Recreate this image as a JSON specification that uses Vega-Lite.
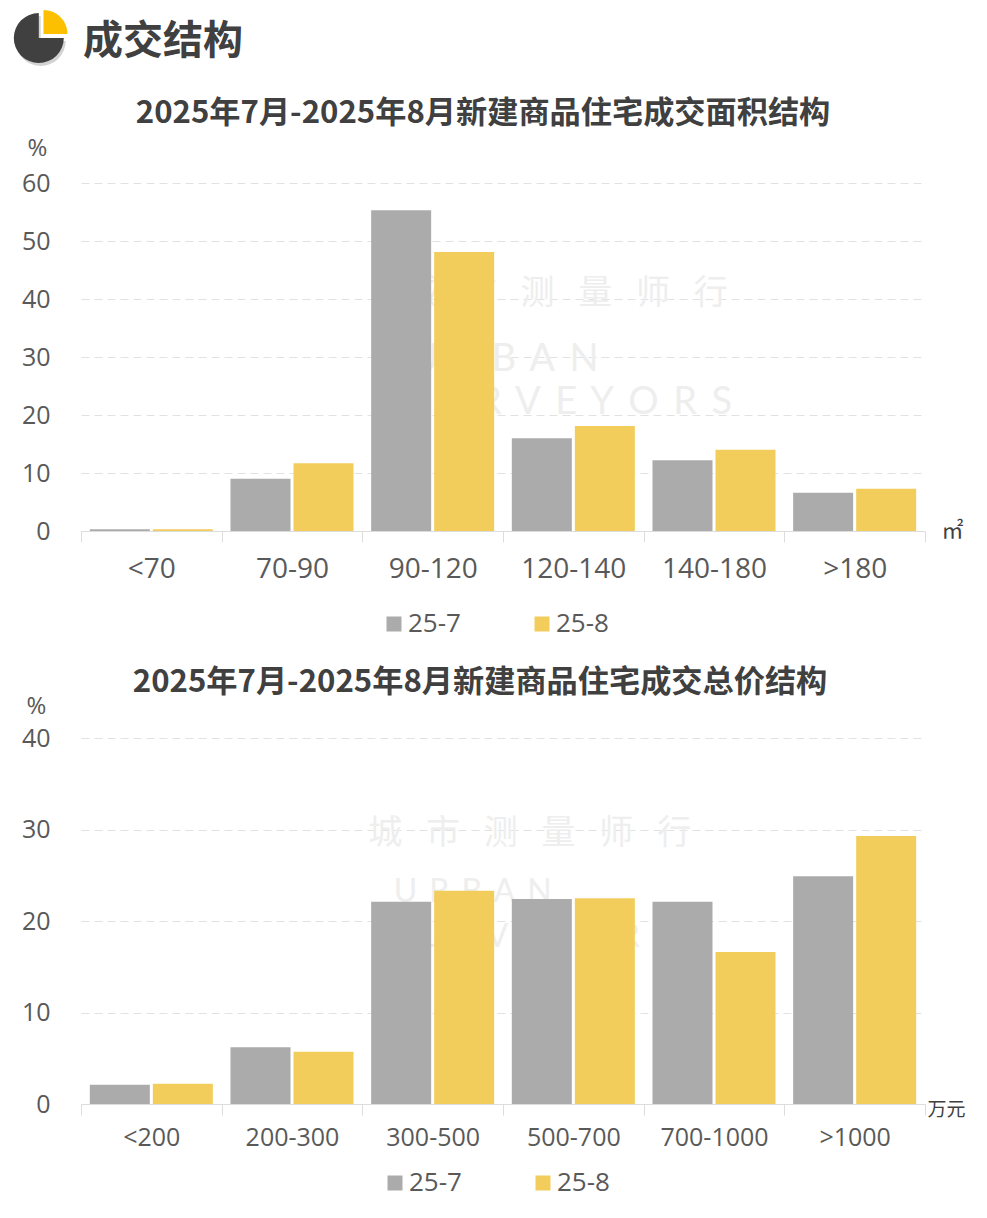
{
"$schema":"https://vega.github.io/schema/vega-lite/v6.json",
"background":"white",
"padding":{"left":13,"top":10,"right":62,"bottom":113},
"config":{"view":{"stroke":null},"font":"Noto Sans CJK SC"},
"datasets":{
"area":[
{"cat":"<70","period":"25-7","v":0.3},{"cat":"<70","period":"25-8","v":0.3},
{"cat":"70-90","period":"25-7","v":9.0},{"cat":"70-90","period":"25-8","v":11.7},
{"cat":"90-120","period":"25-7","v":55.3},{"cat":"90-120","period":"25-8","v":48.1},
{"cat":"120-140","period":"25-7","v":16.0},{"cat":"120-140","period":"25-8","v":18.1},
{"cat":"140-180","period":"25-7","v":12.2},{"cat":"140-180","period":"25-8","v":14.0},
{"cat":">180","period":"25-7","v":6.6},{"cat":">180","period":"25-8","v":7.3}],
"price":[
{"cat":"<200","period":"25-7","v":2.1},{"cat":"<200","period":"25-8","v":2.2},
{"cat":"200-300","period":"25-7","v":6.2},{"cat":"200-300","period":"25-8","v":5.7},
{"cat":"300-500","period":"25-7","v":22.1},{"cat":"300-500","period":"25-8","v":23.3},
{"cat":"500-700","period":"25-7","v":22.4},{"cat":"500-700","period":"25-8","v":22.5},
{"cat":"700-1000","period":"25-7","v":22.1},{"cat":"700-1000","period":"25-8","v":16.6},
{"cat":">1000","period":"25-7","v":24.9},{"cat":">1000","period":"25-8","v":29.3}],
"icon":[{"part":"dark","from":25,"to":100},{"part":"yellow","from":0,"to":25}],
"head":[{"label":"成交结构"}],
"wm1":[{"label":"城\u2002\u2009市\u2002\u2009测\u2002\u2009量\u2002\u2009师\u2002\u2009行","cat":"120-140"}],
"wm2":[{"label":"U\u2009 R\u2009 B\u2009 A\u2009 N","cat":"90-120"}],
"wm3":[{"label":"S\u2009 U\u2009 R\u2009 V\u2009 E\u2009 Y\u2009 O\u2009 R\u2009 S","cat":"120-140"}],
"wp1":[{"label":"城\u2002\u2009市\u2002\u2009测\u2002\u2009量\u2002\u2009师\u2002\u2009行","cat":"300-500"}],
"wp2":[{"label":"U\u2009 R\u2009 B\u2009 A\u2009 N","cat":"300-500"}],
"wp3":[{"label":"S\u2009 U\u2009 R\u2009 V\u2009 E\u2009 Y\u2009 O\u2009 R\u2009 S","cat":"300-500"}]
},
"bounds":"flush","spacing":113,
"resolve":{"scale":{"color":"independent"},"legend":{"color":"independent"}},
"vconcat":[
{"width":844,"height":60,
"layer":[
{"data":{"name":"icon"},"transform":[{"filter":"datum.part=='dark'"}],
 "mark":{"type":"arc","radius":25,"color":"#b5b5b5","opacity":0.6},
 "encoding":{"x":{"datum":-43,"type":"quantitative","scale":{"domain":[0,844]},"axis":null},"y":{"datum":31,"type":"quantitative","scale":{"domain":[0,60],"reverse":true},"axis":null},
 "theta":{"field":"from","type":"quantitative","scale":{"domain":[0,100],"range":[0,6.2832]}},"theta2":{"field":"to"}}},
{"data":{"name":"icon"},"transform":[{"filter":"datum.part=='dark'"}],
 "mark":{"type":"arc","radius":25,"color":"#404040"},
 "encoding":{"x":{"datum":-45,"type":"quantitative","axis":null},"y":{"datum":28,"type":"quantitative","axis":null},
 "theta":{"field":"from","type":"quantitative","scale":{"domain":[0,100],"range":[0,6.2832]}},"theta2":{"field":"to"}}},
{"data":{"name":"icon"},"transform":[{"filter":"datum.part=='yellow'"}],
 "mark":{"type":"arc","radius":24,"color":"#fcc000"},
 "encoding":{"x":{"datum":-40,"type":"quantitative","axis":null},"y":{"datum":24,"type":"quantitative","axis":null},
 "theta":{"field":"from","type":"quantitative","scale":{"domain":[0,100],"range":[0,6.2832]}},"theta2":{"field":"to"}}},
{"data":{"name":"head"},
 "mark":{"type":"text","align":"left","baseline":"middle","fontSize":40,"fontWeight":"bold","color":"#404040","font":"Noto Sans CJK SC"},
 "encoding":{"x":{"datum":2,"type":"quantitative","axis":null},"y":{"datum":32,"type":"quantitative","axis":null},"text":{"field":"label"}}}
]
},
{"width":844,"height":348,
"title":{"text":"2025年7月-2025年8月新建商品住宅成交面积结构","fontSize":31.2,"fontWeight":"bold","color":"#404040","font":"Noto Sans CJK SC","anchor":"middle","frame":"group","dx":-20,"offset":7},
"encoding":{"x":{"field":"cat","type":"nominal","scale":{"domain":["<70","70-90","90-120","120-140","140-180",">180"],"paddingInner":0,"paddingOuter":0},
 "axis":{"title":"㎡","titleX":871,"titleY":-1,"titleFontSize":22,"titleFontWeight":"normal","titleColor":"#404040","titleBaseline":"middle","labelAngle":0,"labelFont":"Open Sans","labelFontSize":28,"labelColor":"#595959","labelPadding":13,"tickBand":"extent","tickSize":11,"tickColor":"#dddddd","domainColor":"#dddddd","grid":false,"labelOverlap":false,"labelFlush":false}}},
"layer":[
{"data":{"name":"wm1"},"mark":{"type":"text","fontSize":34,"color":"#eeeeee","dx":-7},"encoding":{"y":{"datum":40.9,"type":"quantitative"},"text":{"field":"label"}}},
{"data":{"name":"wm2"},"mark":{"type":"text","fontSize":38,"color":"#eeeeee","dx":72,"font":"Lato"},"encoding":{"y":{"datum":29.5,"type":"quantitative"},"text":{"field":"label"}}},
{"data":{"name":"wm3"},"mark":{"type":"text","fontSize":38,"color":"#eeeeee","dx":-7,"font":"Lato"},"encoding":{"y":{"datum":22,"type":"quantitative"},"text":{"field":"label"}}},
{"data":{"name":"area"},"mark":{"type":"bar","size":60},
 "encoding":{
 "xOffset":{"field":"period","type":"nominal","scale":{"paddingInner":0.0476,"paddingOuter":0.14}},
 "y":{"field":"v","type":"quantitative","scale":{"domain":[0,60]},
  "axis":{"values":[0,10,20,30,40,50,60],"title":"%","titleAngle":0,"titleX":-44,"titleY":-35,"titleFontSize":24,"titleFont":"Open Sans","titleFontWeight":"normal","titleColor":"#595959","titleAlign":"center","titleBaseline":"middle","labelFont":"Open Sans","labelFontSize":25,"labelColor":"#595959","labelPadding":31,"ticks":false,"domain":false,"grid":true,"gridColor":"#e2e2e2","gridDash":[8,5]}},
 "color":{"field":"period","type":"nominal","scale":{"domain":["25-7","25-8"],"range":["#ababab","#f2cd5c"]},
  "legend":{"orient":"none","legendX":300,"legendY":428,"direction":"horizontal","columns":2,"title":null,"symbolType":"square","symbolSize":225,"symbolStrokeWidth":0,"symbolOpacity":1,"labelFont":"Open Sans","labelFontSize":26,"labelColor":"#595959","labelOffset":1,"columnPadding":68}}}}
]},
{"width":844,"height":460,
"title":{"text":"2025年7月-2025年8月新建商品住宅成交总价结构","fontSize":31.2,"fontWeight":"bold","color":"#404040","font":"Noto Sans CJK SC","anchor":"middle","frame":"group","dx":-23,"dy":54,"offset":0},
"encoding":{"x":{"field":"cat","type":"nominal","scale":{"domain":["<200","200-300","300-500","500-700","700-1000",">1000"],"paddingInner":0,"paddingOuter":0},
 "axis":{"title":"万元","titleX":865,"titleY":5,"titleFontSize":19,"titleFontWeight":"normal","titleColor":"#404040","titleBaseline":"middle","labelAngle":0,"labelFont":"Open Sans","labelFontSize":25,"labelColor":"#595959","labelPadding":10,"tickBand":"extent","tickSize":11,"tickColor":"#dddddd","domainColor":"#dddddd","grid":false,"labelOverlap":false,"labelFlush":false}}},
"layer":[
{"data":{"name":"wp1"},"mark":{"type":"text","fontSize":34,"color":"#eeeeee","dx":97},"encoding":{"y":{"datum":29.5,"type":"quantitative"},"text":{"field":"label"}}},
{"data":{"name":"wp2"},"mark":{"type":"text","fontSize":32,"color":"#eeeeee","dx":40,"font":"Lato"},"encoding":{"y":{"datum":23.2,"type":"quantitative"},"text":{"field":"label"}}},
{"data":{"name":"wp3"},"mark":{"type":"text","fontSize":32,"color":"#eeeeee","dx":97,"font":"Lato"},"encoding":{"y":{"datum":18.3,"type":"quantitative"},"text":{"field":"label"}}},
{"data":{"name":"price"},"mark":{"type":"bar","size":60},
 "encoding":{
 "xOffset":{"field":"period","type":"nominal","scale":{"paddingInner":0.0476,"paddingOuter":0.14}},
 "y":{"field":"v","type":"quantitative","scale":{"domain":[0,40],"range":[460,94]},
  "axis":{"values":[0,10,20,30,40],"title":"%","titleAngle":0,"titleX":-45,"titleY":62,"titleFontSize":24,"titleFont":"Open Sans","titleFontWeight":"normal","titleColor":"#595959","titleAlign":"center","titleBaseline":"middle","labelFont":"Open Sans","labelFontSize":25,"labelColor":"#595959","labelPadding":31,"ticks":false,"domain":false,"grid":true,"gridColor":"#e2e2e2","gridDash":[8,5]}},
 "color":{"field":"period","type":"nominal","scale":{"domain":["25-7","25-8"],"range":["#ababab","#f2cd5c"]},
  "legend":{"orient":"none","legendX":301,"legendY":526,"direction":"horizontal","columns":2,"title":null,"symbolType":"square","symbolSize":225,"symbolStrokeWidth":0,"symbolOpacity":1,"labelFont":"Open Sans","labelFontSize":26,"labelColor":"#595959","labelOffset":1,"columnPadding":68}}}}
]}
]
}
